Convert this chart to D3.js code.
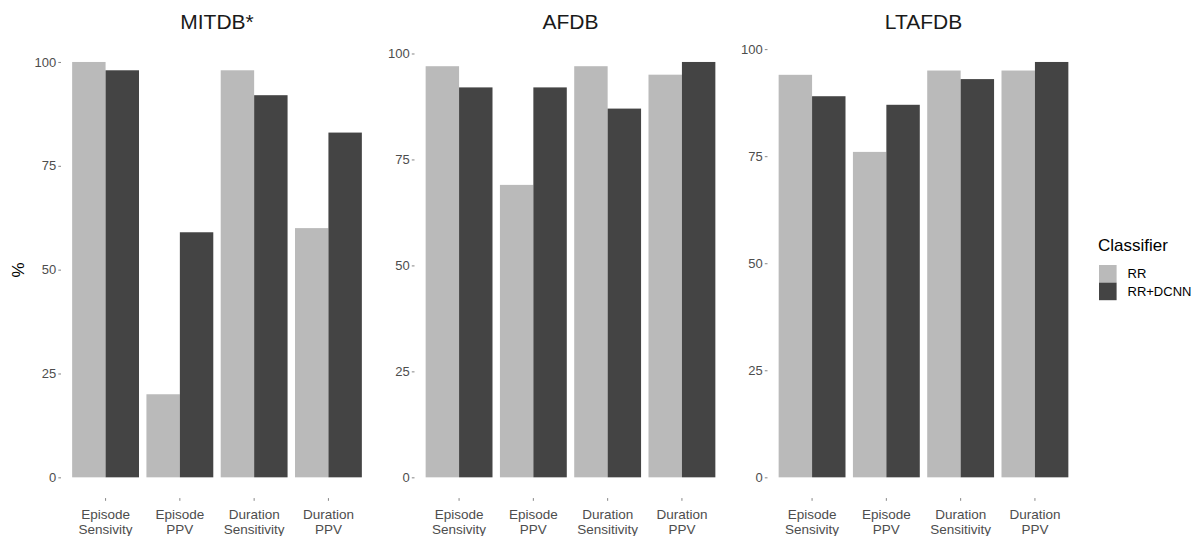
<!DOCTYPE html>
<html>
<head>
<meta charset="utf-8">
<script src="https://cdn.jsdelivr.net/npm/d3@7"></script>
<style>
  body { margin: 0; background: #fff; }
  svg text { font-family: "Liberation Sans", Arial, sans-serif; }
</style>
</head>
<body>
<div id="chart"></div>
<script>
// grouped bars, one facet per database, free y scales
const databases = ['MITDB*', 'AFDB', 'LTAFDB'];
const metrics = ['Episode\nSensivity', 'Episode\nPPV', 'Duration\nSensitivity', 'Duration\nPPV'];
const classifiers = ['RR', 'RR+DCNN'];
const yTicks = [0, 25, 50, 75, 100];

const rrValues = [
    [100, 20, 98, 60],
    [97, 69, 97, 95],
    [94, 76, 95, 95]
];
const dcnnValues = [
    [98, 59, 92, 83],
    [92, 92, 87, 98],
    [89, 87, 93, 97]
];

const colors = { 'RR': '#bababa', 'RR+DCNN': '#444444' };

const svgWidth = 1204;
const svgHeight = 536;
const panelLefts = [61, 414.5, 767.5];
const panelWidth = 312;
const panelTop = 41.2;
const panelBottom = 498.1;

const svg = d3.select('#chart')
    .append('svg')
    .attr('width', svgWidth)
    .attr('height', svgHeight);

databases.forEach((db, i) => {
    const data = metrics.map((m, j) => ({
        metric: m,
        values: [
            { key: 'RR', value: rrValues[i][j] },
            { key: 'RR+DCNN', value: dcnnValues[i][j] }
        ]
    }));
    const maxVal = d3.max(data, d => d3.max(d.values, v => v.value));

    const g = svg.append('g')
        .attr('transform', `translate(${panelLefts[i]},0)`);

    const xScale = d3.scaleBand()
        .domain(metrics)
        .range([0, panelWidth])
        .paddingInner(0.1)
        .paddingOuter(0.15);
    const xInner = d3.scaleBand()
        .domain(classifiers)
        .range([0, xScale.bandwidth()]);
    const yScale = d3.scaleLinear()
        .domain([-0.05 * maxVal, maxVal * 1.05])
        .range([panelBottom, panelTop]);

    g.selectAll('g.group')
        .data(data)
        .enter()
        .append('g')
        .attr('class', 'group')
        .attr('transform', d => `translate(${xScale(d.metric)},0)`)
        .selectAll('rect')
        .data(d => d.values)
        .enter()
        .append('rect')
        .attr('x', d => xInner(d.key))
        .attr('y', d => yScale(d.value))
        .attr('width', xInner.bandwidth())
        .attr('height', d => yScale(0) - yScale(d.value))
        .attr('fill', d => colors[d.key]);

    // y axis
    const yAxis = g.append('g')
        .call(d3.axisLeft(yScale).tickValues(yTicks).tickSize(2.7).tickPadding(2));
    yAxis.select('.domain').remove();
    yAxis.selectAll('line').attr('stroke', '#333333').attr('stroke-width', 0.6);
    yAxis.selectAll('text')
        .attr('fill', '#4d4d4d')
        .style('font-size', '13px');

    // x axis
    const xAxis = g.append('g')
        .attr('transform', `translate(0,${panelBottom})`)
        .call(d3.axisBottom(xScale).tickSize(2.7).tickFormat(''));
    xAxis.select('.domain').remove();
    xAxis.selectAll('line').attr('stroke', '#333333').attr('stroke-width', 0.6);
    xAxis.selectAll('.tick').each(function(d) {
        const lines = d.split('\n');
        const t = d3.select(this).append('text')
            .attr('fill', '#4d4d4d')
            .attr('text-anchor', 'middle')
            .style('font-size', '13.5px');
        lines.forEach((ln, k) => {
            t.append('tspan')
                .attr('x', 0)
                .attr('y', 21 + k * 15.4)
                .text(ln);
        });
    });

    // facet title
    svg.append('text')
        .attr('x', panelLefts[i] + panelWidth / 2)
        .attr('y', 29)
        .attr('text-anchor', 'middle')
        .attr('fill', '#1a1a1a')
        .style('font-size', '21px')
        .text(db);
});

// y axis title
svg.append('text')
    .attr('transform', 'translate(24,270) rotate(-90)')
    .attr('text-anchor', 'middle')
    .style('font-size', '17px')
    .attr('fill', '#000')
    .text('%');

// legend
const legend = svg.append('g').attr('transform', 'translate(1099,0)');
legend.append('text')
    .attr('x', -1)
    .attr('y', 251)
    .style('font-size', '17px')
    .attr('fill', '#000')
    .text('Classifier');
classifiers.forEach((c, k) => {
    legend.append('rect')
        .attr('x', 0)
        .attr('y', 265 + k * 17.6)
        .attr('width', 17.6)
        .attr('height', 17.6)
        .attr('fill', colors[c]);
    legend.append('text')
        .attr('x', 28.5)
        .attr('y', 278 + k * 17.6)
        .style('font-size', '13px')
        .attr('fill', '#000')
        .text(c);
});
</script>
</body>
</html>
